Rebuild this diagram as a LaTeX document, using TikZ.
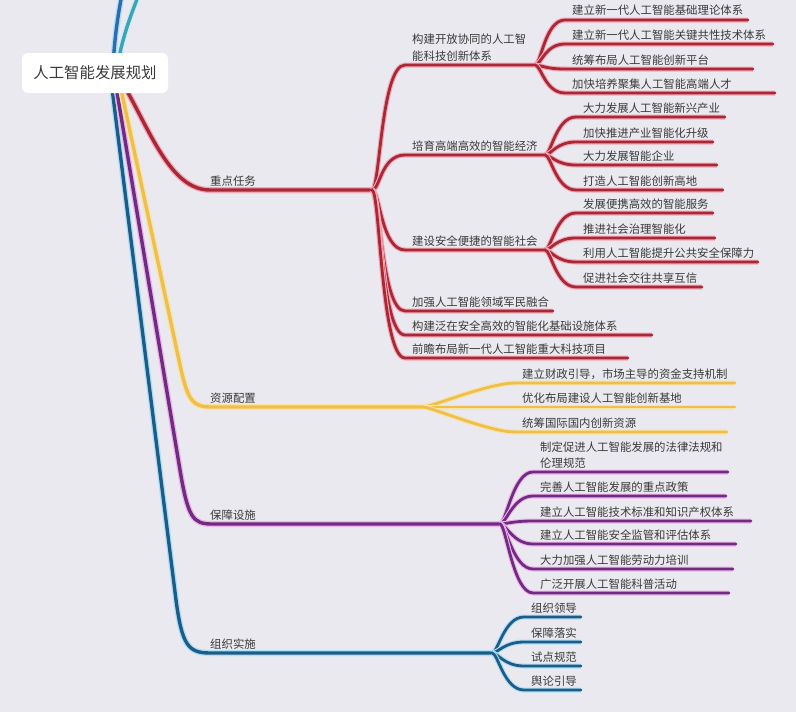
\documentclass[tikz,border=0pt]{standalone}
\usepackage{fontspec}
\setmainfont{Noto Sans CJK SC}
\definecolor{bg}{HTML}{E9E9EF}
\definecolor{redc}{HTML}{A82838}
\definecolor{redg}{HTML}{F4A8B6}
\definecolor{yelc}{HTML}{EFBF4E}
\definecolor{yelg}{HTML}{F8E3A8}
\definecolor{purc}{HTML}{6E2C82}
\definecolor{purg}{HTML}{EFB4E8}
\definecolor{bluc}{HTML}{1F5B87}
\definecolor{blug}{HTML}{AEE0F6}
\definecolor{dblc}{HTML}{2E6AAE}
\definecolor{tealc}{HTML}{3CA4B4}
\definecolor{txt}{HTML}{3A3A3A}
\tikzset{
  lnbase/.style={line cap=round, line join=round},
  redmain/.style={lnbase, draw=redc, line width=3.4pt, preaction={draw=redg, line width=6pt}},
  redln/.style={lnbase, draw=redc, line width=2.8pt, preaction={draw=redg, line width=5pt}},
  yelmain/.style={lnbase, draw=yelc, line width=3.4pt, preaction={draw=yelg, line width=6pt}},
  yelln/.style={lnbase, draw=yelc, line width=2.8pt, preaction={draw=yelg, line width=5pt}},
  purmain/.style={lnbase, draw=purc, line width=3.4pt, preaction={draw=purg, line width=6pt}},
  purln/.style={lnbase, draw=purc, line width=2.8pt, preaction={draw=purg, line width=5pt}},
  blumain/.style={lnbase, draw=bluc, line width=3.4pt, preaction={draw=blug, line width=6pt}},
  bluln/.style={lnbase, draw=bluc, line width=2.8pt, preaction={draw=blug, line width=5pt}},
  dblln/.style={lnbase, draw=dblc, line width=3.4pt, preaction={draw=blug, line width=6pt}},
  tealln/.style={lnbase, draw=tealc, line width=3.4pt, preaction={draw=blug!60, line width=6pt}},
  lbl/.style={font=\fontsize{11.4}{13}\selectfont, text=txt, inner sep=0pt},
  rootbox/.style={fill=white, rounded corners=6pt, minimum width=146pt, minimum height=40pt,
    inner sep=0pt, font=\fontsize{15.4}{18}\selectfont, text=txt},
}
% #1 style, #2 from, #3 c1, #4 c2, #5 xs, #6 y, #7 xe, #8 name, #9 text
\newcommand\mmleaf[9]{%
  \coordinate (#8s) at (#5,#6);
  \coordinate (#8e) at (#7,#6);
  \node[lbl,anchor=base west] (#8) at (#5+7,#6-5) {#9};
  \draw[#1] (#2) .. controls +(#3,0) and +(-#4,0) .. (#8s) -- (#8e);
}
\begin{document}
\begin{tikzpicture}[x=1pt,y=-1pt]
\useasboundingbox (0,0) rectangle (796,712);
\fill[bg] (0,0) rectangle (796,712);

% cut-off branches above the root
\coordinate (T1a) at (113,70);
\coordinate (T1b) at (122,-6);
\coordinate (T2a) at (117,70);
\coordinate (T2b) at (139,-6);
\draw[tealln] (T2a) .. controls (121,40) and (131,15) .. (T2b);
\draw[dblln] (T1a) .. controls (114,40) and (118,15) .. (T1b);

% main branches
\coordinate (B0) at (111,80);
\coordinate (B1) at (176,600);
\coordinate (Bc) at (210,653);
\coordinate (BJ) at (492,653);
\draw[blumain] (B0) -- (B1) .. controls (182,645) and (188,653) .. (Bc) -- (BJ);
\node[lbl,anchor=base west] (B) at (210,648) {组织实施};

\coordinate (P0) at (115,80);
\coordinate (P1) at (180,470);
\coordinate (Pc) at (212,524);
\coordinate (PJ) at (500,524);
\draw[purmain] (P0) -- (P1) .. controls (188,518) and (193,524) .. (Pc) -- (PJ);
\node[lbl,anchor=base west] (P) at (210,519) {保障设施};

\coordinate (Y0) at (119,80);
\coordinate (Y1) at (180,365);
\coordinate (Yc) at (212,407);
\coordinate (YJ) at (423,407);
\draw[yelmain] (Y0) -- (Y1) .. controls (188,402) and (193,407) .. (Yc) -- (YJ);
\node[lbl,anchor=base west] (Y) at (210,402) {资源配置};

\coordinate (R0) at (122,82);
\coordinate (Rc) at (210,190);
\coordinate (RJ) at (372,190);
\draw[redmain] (R0) .. controls (150,130) and (170,190) .. (Rc) -- (RJ);
\node[lbl,anchor=base west] (R) at (210,185) {重点任务};

\node[rootbox] (root) at (95,73) {人工智能发展规划};

% red sub-branches
\mmleaf{redln}{RJ}{8}{24}{405}{65}{535}{R1}{能科技创新体系}
\node[lbl,anchor=base west] (R1top) at (412,43) {构建开放协同的人工智};
\coordinate (R1J) at (535,65);
\mmleaf{redln}{RJ}{8}{24}{405}{155}{545}{R2}{培育高端高效的智能经济}
\coordinate (R2J) at (545,155);
\mmleaf{redln}{RJ}{8}{24}{405}{250}{545}{R3}{建设安全便捷的智能社会}
\coordinate (R3J) at (545,250);
\mmleaf{redln}{RJ}{8}{24}{405}{311}{553}{R4}{加强人工智能领域军民融合}
\mmleaf{redln}{RJ}{8}{24}{405}{335}{652}{R5}{构建泛在安全高效的智能化基础设施体系}
\mmleaf{redln}{RJ}{8}{24}{405}{358}{628}{R6}{前瞻布局新一代人工智能重大科技项目}

\mmleaf{redln}{R1J}{6}{20}{565}{20}{748}{R1a}{建立新一代人工智能基础理论体系}
\mmleaf{redln}{R1J}{6}{20}{565}{44}{773}{R1b}{建立新一代人工智能关键共性技术体系}
\mmleaf{redln}{R1J}{6}{20}{565}{69}{753}{R1c}{统筹布局人工智能创新平台}
\mmleaf{redln}{R1J}{6}{20}{565}{93}{775}{R1d}{加快培养聚集人工智能高端人才}

\mmleaf{redln}{R2J}{6}{20}{576}{117}{725}{R2a}{大力发展人工智能新兴产业}
\mmleaf{redln}{R2J}{6}{20}{576}{142}{713}{R2b}{加快推进产业智能化升级}
\mmleaf{redln}{R2J}{6}{20}{576}{165}{717}{R2c}{大力发展智能企业}
\mmleaf{redln}{R2J}{6}{20}{576}{190}{723}{R2d}{打造人工智能创新高地}

\mmleaf{redln}{R3J}{6}{20}{576}{213}{713}{R3a}{发展便携高效的智能服务}
\mmleaf{redln}{R3J}{6}{20}{576}{238}{715}{R3b}{推进社会治理智能化}
\mmleaf{redln}{R3J}{6}{20}{576}{262}{758}{R3c}{利用人工智能提升公共安全保障力}
\mmleaf{redln}{R3J}{6}{20}{576}{287}{702}{R3d}{促进社会交往共享互信}

% yellow
\mmleaf{yelln}{YJ}{8}{26}{515}{383}{735}{Ya}{建立财政引导，市场主导的资金支持机制}
\mmleaf{yelln}{YJ}{8}{26}{515}{407}{735}{Yb}{优化布局建设人工智能创新基地}
\mmleaf{yelln}{YJ}{8}{26}{515}{432}{727}{Yc}{统筹国际国内创新资源}

% purple
\mmleaf{purln}{PJ}{6}{20}{533}{472}{728}{Pa}{伦理规范}
\node[lbl,anchor=base west] (Patop) at (540,451) {制定促进人工智能发展的法律法规和};
\mmleaf{purln}{PJ}{6}{20}{533}{496}{726}{Pb}{完善人工智能发展的重点政策}
\mmleaf{purln}{PJ}{6}{20}{533}{521}{751}{Pc2}{建立人工智能技术标准和知识产权体系}
\mmleaf{purln}{PJ}{6}{20}{533}{544}{736}{Pd}{建立人工智能安全监管和评估体系}
\mmleaf{purln}{PJ}{6}{20}{533}{569}{733}{Pe}{大力加强人工智能劳动力培训}
\mmleaf{purln}{PJ}{6}{20}{533}{593}{729}{Pf}{广泛开展人工智能科普活动}

% blue
\mmleaf{bluln}{BJ}{6}{20}{524}{617}{581}{Ba}{组织领导}
\mmleaf{bluln}{BJ}{6}{20}{524}{642}{581}{Bb}{保障落实}
\mmleaf{bluln}{BJ}{6}{20}{524}{666}{581}{Bc2}{试点规范}
\mmleaf{bluln}{BJ}{6}{20}{524}{690}{581}{Bd}{舆论引导}
\end{tikzpicture}
\end{document}
